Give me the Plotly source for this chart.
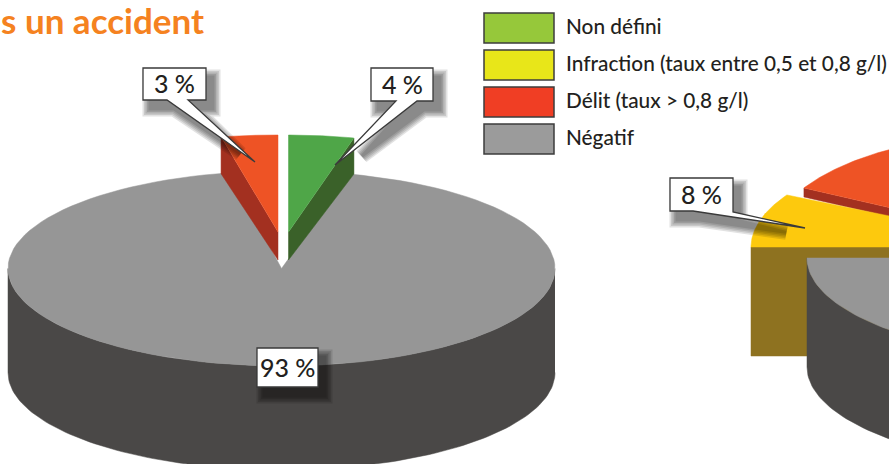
import numpy as np
import plotly.graph_objects as go

# ---------- data ----------
LEGEND_LABELS = ["Non défini", "Infraction (taux entre 0,5 et 0,8 g/l)", "Délit (taux > 0,8 g/l)", "Négatif"]
LEGEND_COLORS = ["#96c83a", "#e8e619", "#f03e24", "#9b9b9b"]
LEFT_NON_DEFINI = 4
LEFT_DELIT = 3
LEFT_NEGATIF = 93
RIGHT_INFRACTION = 8
RIGHT_DELIT = 18      # slice runs out of the frame: estimate
TITLE_TEXT = "s un accident"

# ---------- style ----------
GREY_TOP, GREY_SIDE = "#969696", "#4a4847"
GREEN_TOP, GREEN_SIDE = "#4fa648", "#3a6129"
RED_TOP, RED_SIDE = "#ee5325", "#a33020"
YEL_TOP, YEL_SIDE = "#fdc90d", "#8e7220"
FONT = "Lato"
INK = "#231f20"


def deg(v):
    return v * 3.6


def arc(cx, cy, rx, ry, a0, a1, n=120):
    """Ellipse arc, angles clockwise from 12 o'clock."""
    t = np.radians(np.linspace(a0, a1, n))
    return list(cx + rx * np.sin(t)), list(cy - ry * np.cos(t))


fig = go.Figure()


def poly(xs, ys, color):
    fig.add_trace(go.Scatter(x=xs, y=ys, mode="lines", fill="toself", fillcolor=color,
                             line=dict(color=color, width=0.5), hoverinfo="skip", showlegend=False))


def wedge_top(cx, cy, rx, ry, a0, a1, color):
    x, y = arc(cx, cy, rx, ry, a0, a1)
    poly([cx] + x + [cx], [cy] + y + [cy], color)


def cylinder_side(cx, cy, rx, ry, depth, color):
    x, y = arc(cx, cy, rx, ry, 90, 270)
    poly(x + x[::-1], y + [v + depth for v in y[::-1]], color)


# ---------- left pie ----------
LC = (281.5, 268.5, 273.5, 97.5)
LD = 104
cylinder_side(*LC, LD, GREY_SIDE)
wedge_top(*LC, deg(LEFT_NON_DEFINI), 360 - deg(LEFT_DELIT), GREY_TOP)

# exploded red slice
rx_, ry_ = 304, 97
cx_, cy_ = 278, 232
x, y = arc(cx_, cy_, rx_, ry_, 360 - deg(LEFT_DELIT), 360 - deg(LEFT_DELIT), 1)
poly([x[0], x[0], cx_, cx_], [y[0], y[0] + 37, cy_ + 28, cy_], RED_SIDE)
wedge_top(cx_, cy_, rx_, ry_, 360 - deg(LEFT_DELIT), 360, RED_TOP)

# exploded green slice
rx_, ry_ = 263, 97
cx_, cy_ = 288.5, 232
x, y = arc(cx_, cy_, rx_, ry_, deg(LEFT_NON_DEFINI), deg(LEFT_NON_DEFINI), 1)
poly([x[0], x[0], cx_, cx_], [y[0], y[0] + 36, cy_ + 28, cy_], GREEN_SIDE)
wedge_top(cx_, cy_, rx_, ry_, 0, deg(LEFT_NON_DEFINI), GREEN_TOP)

# ---------- right pie ----------
yel0, yel1 = 270, 270 + deg(RIGHT_INFRACTION)
red1 = yel1 + deg(RIGHT_DELIT)

# red slice
cx_, cy_, rx_, ry_ = 1030, 240, 258, 108
x, y = arc(cx_, cy_, rx_, ry_, yel1, yel1, 1)
poly([x[0], x[0], cx_, cx_], [y[0], y[0] + 9, cy_ + 9, cy_], RED_SIDE)
wedge_top(cx_, cy_, rx_, ry_, yel1, red1, RED_TOP)

# yellow slice
cx_, cy_, rx_, ry_ = 1041, 247, 290, 108
x, y = arc(cx_, cy_, rx_, ry_, yel0, yel0, 1)
poly([x[0], x[0], cx_, cx_], [y[0], y[0] + 109, cy_ + 109, cy_], YEL_SIDE)
wedge_top(cx_, cy_, rx_, ry_, yel0, yel1, YEL_TOP)

# grey body
RC = (1097, 258, 290, 103)
cylinder_side(*RC, 109, GREY_SIDE)
wedge_top(*RC, 90, 270, GREY_TOP)

# ---------- call-outs ----------
CALLOUTS = [
    ("3 %", (143, 68, 206, 100), [(167, 100), (255, 162), (188, 100)]),
    ("4 %", (371, 68, 433, 101), [(396, 101), (335, 165), (417, 101)]),
    ("93 %", (257, 348, 318, 387), []),
    ("8 %", (670, 178, 733, 211), [(693, 211), (805, 228), (733, 212)]),
]
shapes, annotations = [], []


def outline(box, ptr, dx=0, dy=0, tip_scale=1.0):
    l, t, r, b = box
    pts = [(l, t), (r, t), (r, b)]
    if ptr:
        a, tip, c = ptr
        mx, my = (a[0] + c[0]) / 2, (a[1] + c[1]) / 2
        tip = (mx + (tip[0] - mx) * tip_scale, my + (tip[1] - my) * tip_scale)
        pts += [c, tip, a]
    pts += [(l, b)]
    return "M " + " L ".join(f"{x + dx} {y + dy}" for x, y in pts) + " Z"


for text, box, ptr in CALLOUTS:
    for w in (15, 12, 9, 6, 3):
        shapes.append(dict(type="path", path=outline(box, ptr, 7, 9, 0.72), fillcolor="black",
                           line=dict(color="black", width=w), opacity=0.11, layer="above"))
for text, box, ptr in CALLOUTS:
    shapes.append(dict(type="path", path=outline(box, ptr), fillcolor="white",
                       line=dict(color="#3a3a3a", width=1.3), layer="above"))
    annotations.append(dict(x=(box[0] + box[2]) / 2, y=(box[1] + box[3]) / 2 - 1, text=text, showarrow=False,
                            xanchor="center", yanchor="middle",
                            font=dict(family=FONT, size=25, color=INK, weight=500)))

# ---------- legend ----------
LEG_X0, LEG_X1 = 484, 554
LEG_TOPS = [13, 50, 87, 124]
LEG_H = 30
for lab, col, top in zip(LEGEND_LABELS, LEGEND_COLORS, LEG_TOPS):
    shapes.append(dict(type="rect", x0=LEG_X0, x1=LEG_X1, y0=top, y1=top + LEG_H, fillcolor=col,
                       line=dict(color="#3c3c3c", width=1.5), layer="above"))
    annotations.append(dict(x=564, y=top + LEG_H / 2 - 3, text=lab, showarrow=False, xanchor="left",
                            yanchor="middle", font=dict(family=FONT, size=20.8, color=INK, weight=500)))

annotations.append(dict(x=206, y=20, text=TITLE_TEXT, showarrow=False, xanchor="right", yanchor="middle",
                        font=dict(family=FONT, size=35, color="#f58220", weight="bold")))

fig.update_layout(
    width=889, height=464, margin=dict(l=0, r=0, t=0, b=0),
    paper_bgcolor="white", plot_bgcolor="white", showlegend=False,
    xaxis=dict(range=[0, 889], visible=False, fixedrange=True),
    yaxis=dict(range=[464, 0], visible=False, fixedrange=True),
    shapes=shapes, annotations=annotations,
)
fig.write_html("out.html", post_script="document.body.style.margin='0';", config={"displayModeBar": False})
